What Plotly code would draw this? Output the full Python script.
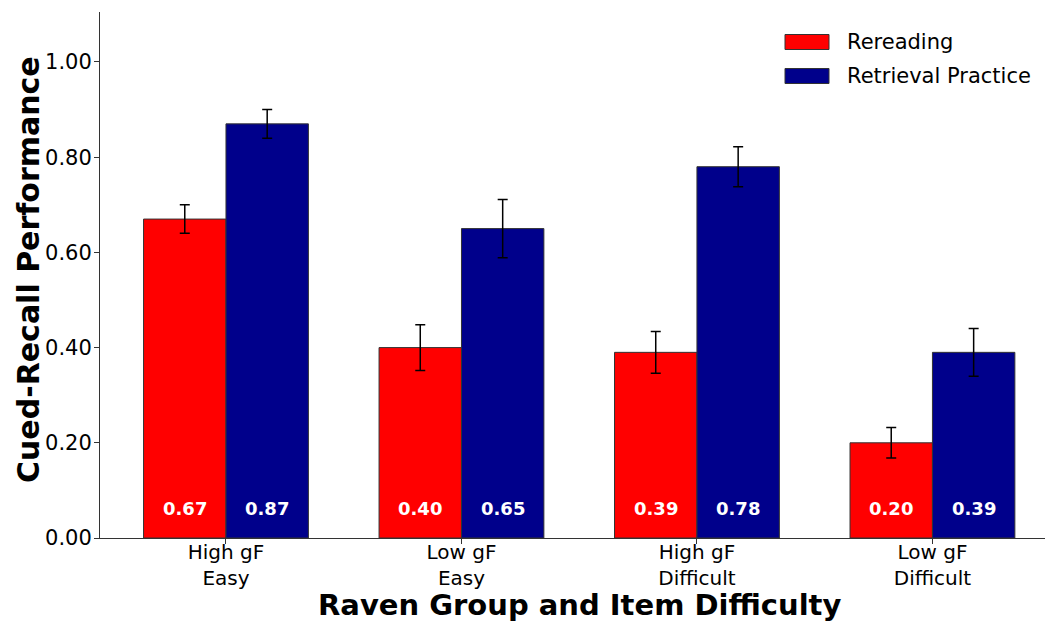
import plotly.graph_objects as go

# Cued-recall performance by Raven group and item difficulty
categories = ["High gF<br>Easy", "Low gF<br>Easy", "High gF<br>Difficult", "Low gF<br>Difficult"]
rereading = [0.67, 0.40, 0.39, 0.20]
rereading_err = [0.030, 0.048, 0.044, 0.032]
retrieval = [0.87, 0.65, 0.78, 0.39]
retrieval_err = [0.030, 0.061, 0.042, 0.050]
y_ticks = [0.0, 0.2, 0.4, 0.6, 0.8, 1.0]

RED = "#ff0000"
NAVY = "#00008b"
FONT = "DejaVu Sans"
BAR_W = 0.35

# plot-area geometry in pixels (used for paper-coordinate placement)
PLOT_L, PLOT_T, PLOT_W, PLOT_H = 100, 12, 945, 526


def px_x(p):
    return (p - PLOT_L) / PLOT_W


def px_y(p):
    return 1 - (p - PLOT_T) / PLOT_H


xpos = list(range(len(categories)))

fig = go.Figure()
for vals, errs, color, name, offset in [
    (rereading, rereading_err, RED, "Rereading", -BAR_W),
    (retrieval, retrieval_err, NAVY, "Retrieval Practice", 0.0),
]:
    fig.add_trace(go.Bar(
        x=xpos, y=vals, name=name, width=BAR_W, offset=offset,
        marker=dict(color=color, line=dict(color="#333333", width=1)),
        error_y=dict(type="data", array=errs, visible=True,
                     color="black", thickness=1.5, width=5),
        showlegend=False,
    ))
    # value labels near the base of each bar
    for xi, v in zip(xpos, vals):
        fig.add_annotation(
            x=xi + offset + BAR_W / 2, y=0.063, text=f"<b>{v:.2f}</b>",
            showarrow=False, yanchor="middle", xanchor="center",
            font=dict(family=FONT, size=18, color="white"),
        )

# legend drawn as patches + labels in the upper right
legend_items = [("Rereading", RED), ("Retrieval Practice", NAVY)]
for i, (label, color) in enumerate(legend_items):
    yc = 42 + 34 * i
    fig.add_shape(type="rect", xref="paper", yref="paper",
                  x0=px_x(785), x1=px_x(829),
                  y0=px_y(yc + 7.5), y1=px_y(yc - 7.5),
                  fillcolor=color, line=dict(color="#333333", width=1))
    fig.add_annotation(xref="paper", yref="paper", x=px_x(845), y=px_y(yc),
                       text=label, showarrow=False, xanchor="left", yanchor="middle",
                       font=dict(family=FONT, size=21, color="black"))

# axis titles
fig.add_annotation(xref="paper", yref="paper", x=px_x(579), y=px_y(605),
                   text="<b>Raven Group and Item Difficulty</b>", showarrow=False,
                   xanchor="center", yanchor="middle",
                   font=dict(family=FONT, size=29, color="black"))
fig.add_annotation(xref="paper", yref="paper", x=px_x(28), y=px_y(270),
                   text="<b>Cued-Recall Performance</b>", showarrow=False, textangle=-90,
                   xanchor="center", yanchor="middle",
                   font=dict(family=FONT, size=30, color="black"))

fig.update_layout(
    width=1045, height=622,
    margin=dict(l=PLOT_L, r=0, t=PLOT_T, b=622 - PLOT_T - PLOT_H),
    plot_bgcolor="white", paper_bgcolor="white",
    font=dict(family=FONT, size=21, color="black"),
    xaxis=dict(
        range=[-0.535, 3.478], tickmode="array", tickvals=xpos, ticktext=categories,
        showline=True, linecolor="#333333", linewidth=1, mirror=False,
        ticks="outside", ticklen=5, tickcolor="#333333", showgrid=False, zeroline=False,
        tickfont=dict(family=FONT, size=20, color="black"), ticklabelstandoff=-9,
    ),
    yaxis=dict(
        range=[0, 1.105], tickvals=y_ticks, ticktext=[f"{t:.2f}" for t in y_ticks],
        showline=True, linecolor="#333333", linewidth=1,
        ticks="outside", ticklen=5, tickcolor="#333333", showgrid=False, zeroline=False,
        tickfont=dict(family=FONT, size=21, color="black"), ticklabelstandoff=-2,
    ),
)

fig.write_html("out.html")
